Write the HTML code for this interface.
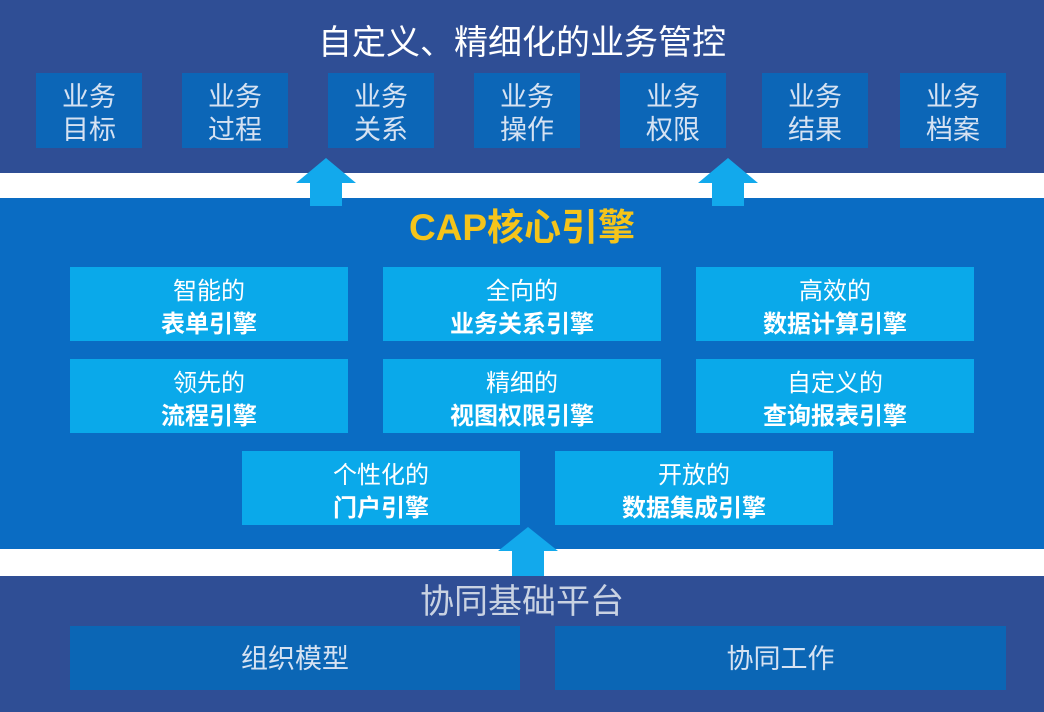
<!DOCTYPE html>
<html><head><meta charset="utf-8"><style>
*{margin:0;padding:0;box-sizing:border-box}
body{width:1044px;height:712px;position:relative;overflow:hidden;background:#fff;font-family:"Liberation Sans","Noto Sans CJK SC",sans-serif}
.a{position:absolute}
.band1{left:0;top:0;width:1044px;height:173px;background:#2f4e95}
.band2{left:0;top:198px;width:1044px;height:351px;background:#0a6cc3}
.band3{left:0;top:576px;width:1044px;height:136px;background:#2f4e95}
.tb{top:73px;width:106px;height:75px;background:#0c66b7;color:#d6e2f2;font-size:27px;line-height:33px;text-align:center;padding-top:8px}
.eb{width:278px;height:74px;background:#0aa9ea;color:#fff;text-align:center;font-size:24px;line-height:33px;padding-top:8px}
.eb b{font-weight:bold}
.bb{top:626px;height:64px;background:#0b66b5;color:#d6e2f2;font-size:27px;line-height:66px;text-align:center}
</style></head><body>
<div class="a band1"></div><div class="a band2"></div><div class="a band3"></div>
<div class="a" style="left:0;top:21px;width:1044px;text-align:center;color:#fff;font-size:34px;line-height:44px">自定义、精细化的业务管控</div>
<div class="a tb" style="left:36px">业务<br>目标</div>
<div class="a tb" style="left:182px">业务<br>过程</div>
<div class="a tb" style="left:328px">业务<br>关系</div>
<div class="a tb" style="left:474px">业务<br>操作</div>
<div class="a tb" style="left:620px">业务<br>权限</div>
<div class="a tb" style="left:762px">业务<br>结果</div>
<div class="a tb" style="left:900px">业务<br>档案</div>
<svg class="a" style="left:0;top:0" width="1044" height="712">
<polygon points="326,158 356,183 342,183 342,206 310,206 310,183 296,183" fill="#12a9ec"/>
<polygon points="728,158 758,183 744,183 744,206 712,206 712,183 698,183" fill="#12a9ec"/>
<polygon points="528,527 558,551 544,551 544,576 512,576 512,551 498,551" fill="#12a9ec"/>
</svg>
<div class="a" style="left:0;top:204px;width:1044px;text-align:center;color:#f5c41a;font-size:37px;font-weight:bold;line-height:48px">CAP核心引擎</div>
<div class="a eb" style="left:70px;top:267px">智能的<br><b>表单引擎</b></div>
<div class="a eb" style="left:383px;top:267px">全向的<br><b>业务关系引擎</b></div>
<div class="a eb" style="left:696px;top:267px">高效的<br><b>数据计算引擎</b></div>
<div class="a eb" style="left:70px;top:359px">领先的<br><b>流程引擎</b></div>
<div class="a eb" style="left:383px;top:359px">精细的<br><b>视图权限引擎</b></div>
<div class="a eb" style="left:696px;top:359px">自定义的<br><b>查询报表引擎</b></div>
<div class="a eb" style="left:242px;top:451px">个性化的<br><b>门户引擎</b></div>
<div class="a eb" style="left:555px;top:451px">开放的<br><b>数据集成引擎</b></div>
<div class="a" style="left:0;top:580px;width:1044px;text-align:center;color:#c9d2e2;font-size:34px;line-height:44px">协同基础平台</div>
<div class="a bb" style="left:70px;width:450px">组织模型</div>
<div class="a bb" style="left:555px;width:451px">协同工作</div>
</body></html>
